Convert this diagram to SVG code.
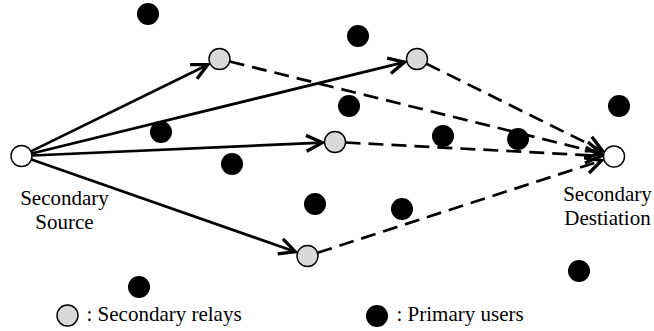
<svg xmlns="http://www.w3.org/2000/svg" width="654" height="331" viewBox="0 0 654 331">
<style>
.txt{font-family:"Liberation Serif","Times New Roman",Times,serif;font-size:21px;fill:#000}
.pu{fill:#000}
.relay{fill:#d9d9d9;stroke:#000;stroke-width:1.4}
.end{fill:#fff;stroke:#000;stroke-width:1.4}
.link{stroke:#000;stroke-width:2.7;fill:none}
.dash{stroke-dasharray:15 8}
</style>
<defs>
<marker id="arr" markerUnits="userSpaceOnUse" markerWidth="22" markerHeight="22" viewBox="-16 -9 18 18" refX="0" refY="0" orient="auto">
<path d="M-13,-6.5 L0,0 L-13,6.5" fill="none" stroke="#000" stroke-width="2.7" stroke-linejoin="miter"/>
</marker>
</defs>
<rect width="654" height="331" fill="#fff"/>
<g id="connectors">
<line class="link" x1="30.9" y1="151.4" x2="207.8" y2="64.7" marker-end="url(#arr)"/>
<line class="link" x1="31.7" y1="153.5" x2="404.5" y2="62.1" marker-end="url(#arr)"/>
<line class="link" x1="32" y1="155.5" x2="322.2" y2="142.6" marker-end="url(#arr)"/>
<line class="link" x1="31.4" y1="159.5" x2="295.3" y2="251.7" marker-end="url(#arr)"/>
<line class="link dash" x1="229.7" y1="61.5" x2="601.5" y2="153.5" marker-end="url(#arr)"/>
<line class="link dash" x1="426.4" y1="63.7" x2="602.5" y2="150.9" marker-end="url(#arr)"/>
<line class="link dash" x1="345.5" y1="142.5" x2="601.2" y2="155.9" marker-end="url(#arr)"/>
<line class="link dash" x1="317.5" y1="252.8" x2="601.7" y2="160.5" marker-end="url(#arr)"/>
</g>
<g id="source">
<circle class="end" cx="21.5" cy="156" r="10.5"/>
<text class="txt" x="64.5" y="205" text-anchor="middle">Secondary</text>
<text class="txt" x="64.5" y="229" text-anchor="middle">Source</text>
</g>
<g id="destination">
<circle class="end" cx="614" cy="156.5" r="10.5"/>
<text class="txt" x="607.5" y="201" text-anchor="middle">Secondary</text>
<text class="txt" x="607.5" y="225" text-anchor="middle">Destiation</text>
</g>
<g id="relay1"><circle class="relay" cx="219.5" cy="59" r="10.5"/></g>
<g id="relay2"><circle class="relay" cx="417" cy="59" r="10.5"/></g>
<g id="relay3"><circle class="relay" cx="335" cy="142" r="10.5"/></g>
<g id="relay4"><circle class="relay" cx="307.5" cy="256" r="10.5"/></g>
<g id="primary-users">
<circle class="pu" cx="148" cy="14" r="11"/>
<circle class="pu" cx="358" cy="36" r="11"/>
<circle class="pu" cx="161" cy="132" r="11"/>
<circle class="pu" cx="232" cy="164" r="11"/>
<circle class="pu" cx="349" cy="106" r="11"/>
<circle class="pu" cx="443" cy="136" r="11"/>
<circle class="pu" cx="518" cy="139" r="11"/>
<circle class="pu" cx="619" cy="106" r="11"/>
<circle class="pu" cx="315" cy="204" r="11"/>
<circle class="pu" cx="402" cy="209" r="11"/>
<circle class="pu" cx="579" cy="271" r="11"/>
<circle class="pu" cx="139" cy="287" r="11"/>
</g>
<g id="legend-relay">
<circle class="relay" cx="67.5" cy="315.5" r="10.5"/>
<text class="txt" x="86.5" y="321">: Secondary relays</text>
</g>
<g id="legend-primary">
<circle class="pu" cx="377" cy="316" r="11"/>
<text class="txt" x="396.5" y="321">: Primary users</text>
</g>
</svg>
